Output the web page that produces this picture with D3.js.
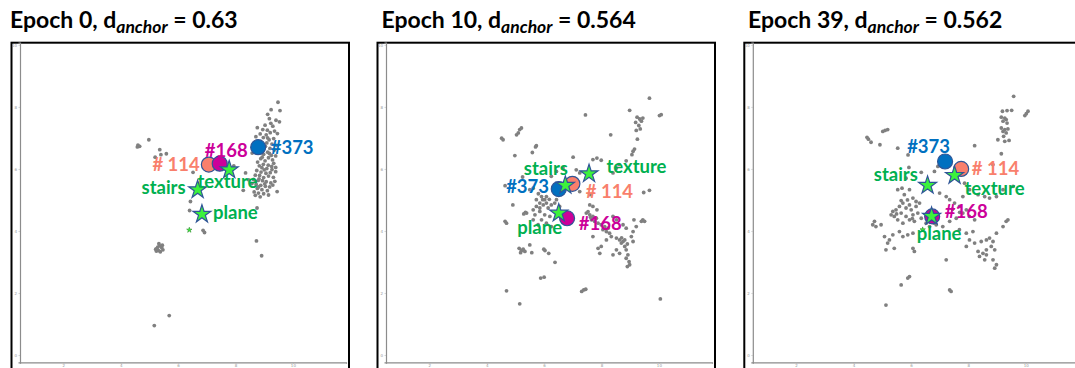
<!DOCTYPE html>
<html>
<head>
<meta charset="utf-8">
<script src="https://cdn.jsdelivr.net/npm/d3@7"></script>
<style>
  html, body { margin: 0; padding: 0; background: #fff; }
  svg { display: block; }
</style>
</head>
<body>
<svg id="chart" width="1075" height="368"></svg>
<script>
// ---- data -------------------------------------------------------------
const epochs = ["0", "10", "39"];
const dAnchor = ["0.63", "0.564", "0.562"];
const xTicks = [2, 4, 6, 8, 10];
const yTicks = [0, 2, 4, 6, 8, 10];

const anchorNames = ["#373", "# 114", "#168"];
const conceptNames = ["texture", "stairs", "plane"];

// anchor sample positions per epoch, in the order of anchorNames
const anchors0 = [[8.79, 6.70], [7.07, 6.14], [7.45, 6.17]];
const anchors10 = [[6.51, 5.35], [6.985, 5.52], [6.80, 4.41]];
const anchors39 = [[7.19, 6.24], [7.75, 6.00], [6.74, 4.47]];

// concept positions per epoch, in the order of conceptNames
const concepts0 = [[7.78, 5.97], [6.68, 5.33], [6.83, 4.54]];
const concepts10 = [[7.565, 5.845], [6.74, 5.47], [6.51, 4.575]];
const concepts39 = [[7.52, 5.79], [6.58, 5.47], [6.72, 4.47]];

// small unlabeled concept marker
const minor0 = [[6.39, 4.03]];
const minor10 = [];
const minor39 = [[6.41, 4.04]];

// embedded samples, epoch 0
const points0 = [
  [4.60,6.77],[4.66,6.73],[4.58,6.71],[4.98,6.94],[5.36,6.62],[5.20,6.38],[5.40,6.46],[5.59,6.49],
  [6.52,5.89],[6.43,4.95],[6.40,4.66],[6.87,4.02],[6.92,3.95],[8.27,5.31],[8.75,4.74],[8.73,3.68],
  [8.91,3.20],[9.37,5.60],[8.46,5.65],[5.69,1.27],[5.17,0.95],[8.35,5.87],[7.94,6.10],[8.58,6.51],
  [5.22,3.41],[5.29,3.48],[5.36,3.52],[5.43,3.46],[5.47,3.39],[5.31,3.37],[5.24,3.35],[5.38,3.33],
  [5.33,3.59],[5.26,3.43],[5.45,3.54],
  [9.48,8.15],[9.24,7.91],[9.55,7.88],[9.12,7.76],[9.18,7.62],[9.41,7.57],[9.53,7.52],[9.23,7.47],
  [9.03,7.41],[9.30,7.38],[8.76,7.33],[8.95,7.27],[9.11,7.25],[9.36,7.22],[8.86,7.13],[9.07,7.10],
  [9.21,7.17],[9.46,7.14],[8.71,7.04],[8.97,7.01],[9.17,6.94],[9.33,6.98],[8.83,6.87],[9.09,6.84],
  [9.27,6.80],[9.44,6.76],[9.04,6.73],[9.20,6.66],[9.35,6.61],[9.12,6.54],[9.25,6.44],[8.98,6.47],
  [9.15,6.36],[9.40,6.42],[8.88,6.33],[9.03,6.26],[9.29,6.29],[8.77,6.22],[8.97,6.15],[9.14,6.12],
  [9.33,6.18],[8.92,6.04],[9.09,6.01],[9.27,5.98],[8.74,5.95],[8.89,5.90],[9.06,5.86],[9.21,5.88],
  [9.40,5.91],[8.69,5.80],[8.84,5.79],[8.98,5.72],[9.15,5.77],[9.32,5.73],[8.63,5.66],[8.79,5.63],
  [8.94,5.62],[9.07,5.59],[9.23,5.55],[8.57,5.53],[8.72,5.50],[8.88,5.47],[9.04,5.44],[9.19,5.42],
  [8.76,5.37],[8.92,5.33],[9.11,5.30],[8.65,5.26],[8.80,5.22],[8.98,5.20],[9.15,5.16],[8.69,5.15],
  [8.86,5.10],[9.45,5.27],[9.02,5.52],[8.82,5.68],[9.00,5.97],[8.83,6.10],[9.18,6.50],[8.93,6.38],
  [9.40,6.05],[8.80,5.42],[9.30,5.48],[9.12,7.00],[8.96,6.60],[9.26,6.08],[8.70,5.60]
];

// embedded samples, epoch 10
const points10 = [
  [9.67,8.28],[8.98,7.89],[9.24,7.67],[9.33,7.61],[9.44,7.64],[9.39,7.54],[9.19,7.50],[9.30,7.40],
  [9.35,7.29],[9.21,7.24],[9.25,6.96],[9.15,6.64],[9.10,6.57],[9.06,6.46],[8.86,6.26],[8.61,6.14],
  [8.52,6.03],[8.40,5.87],[10.08,7.75],[10.02,7.72],[8.32,7.10],[7.44,7.74],
  [4.52,6.99],[4.57,6.94],[5.04,7.10],[5.10,7.16],[5.15,7.27],[5.21,7.32],[5.73,6.75],[5.70,6.71],
  [5.59,6.53],[4.98,6.43],[4.64,5.46],[5.25,5.74],[4.91,4.84],
  [7.01,6.38],[6.25,5.76],[6.43,5.92],[6.66,6.03],[7.12,5.97],[7.24,5.87],[7.70,6.30],[7.84,6.35],
  [7.99,6.28],[7.24,5.27],[7.59,5.17],[5.62,5.38],[5.50,5.33],[5.91,5.11],[6.02,5.01],[5.73,5.01],
  [5.85,4.90],[5.97,4.84],[6.14,4.74],[6.25,4.84],[6.37,4.90],[6.08,5.11],[5.73,4.79],[5.62,4.68],
  [5.85,4.63],[6.02,4.52],[6.20,4.47],[5.91,4.36],[5.62,4.36],[5.79,4.20],[6.08,4.25],[6.25,4.14],
  [5.85,4.74],[6.08,4.90],[5.95,5.01],[6.43,5.01],[6.54,4.79],[5.80,5.20],[6.18,5.02],[5.68,4.52],
  [7.47,4.575],[7.59,4.52],[7.70,4.47],[7.82,4.41],[7.65,4.36],[7.76,4.31],[7.88,4.25],[7.99,4.20],
  [8.11,4.14],[8.23,4.09],[8.05,4.04],[8.17,3.98],[8.28,3.93],[8.34,3.82],[8.52,3.77],[8.63,3.71],
  [8.75,3.66],[8.69,3.61],[8.81,3.50],[8.86,3.39],[8.92,3.23],[8.86,3.12],[8.96,3.01],[8.98,2.91],
  [8.90,2.85],[8.52,3.39],[8.63,3.28],[8.40,3.23],[8.81,3.71],[9.10,3.98],[9.21,4.14],[9.39,4.31],
  [9.44,4.36],[9.50,4.31],[9.13,4.36],[8.17,3.71],[7.99,3.50],[7.88,3.44],[7.94,3.28],[7.70,3.82],
  [8.40,4.47],[8.52,4.36],[8.75,4.20],[8.86,4.09],[9.04,3.82],[9.10,3.66],[7.59,4.84],[7.70,4.79],
  [7.84,4.68],[7.53,4.62],[7.62,4.44],[8.70,3.78],[8.90,3.58],
  [4.64,4.31],[4.69,4.25],[5.35,4.60],[5.29,4.55],[5.39,4.575],[5.13,3.44],[5.21,3.37],[5.27,3.41],
  [5.33,3.34],[5.18,3.30],[5.50,3.55],[5.57,3.30],[5.99,3.41],[6.03,3.37],[6.16,3.28],[6.38,2.99],
  [5.88,2.48],[6.00,2.51],[4.69,2.07],[5.15,1.65],[7.31,2.05],[7.38,2.10],[7.45,2.12],[10.05,1.81],
  [9.47,5.24],[9.67,5.31]
];

// embedded samples, epoch 39
const points39 = [
  [9.58,8.34],[9.35,7.88],[9.51,7.89],[9.19,7.86],[9.15,7.67],[9.27,7.64],[9.32,7.59],[9.21,7.54],
  [9.35,7.48],[9.15,7.32],[9.27,7.27],[9.38,7.29],[9.21,7.21],[9.32,7.16],[9.23,7.05],[9.03,6.94],
  [9.42,6.92],[9.27,6.89],[9.97,7.72],[10.08,7.86],[10.02,7.78],[9.15,6.49],[8.22,6.75],
  [4.47,7.02],[4.52,6.96],[4.61,6.86],[5.02,7.21],[5.10,7.24],[5.19,7.27],[4.92,6.78],[5.54,6.67],
  [5.90,6.45],[5.93,6.05],[6.36,5.89],[5.83,5.70],[5.69,5.38],
  [6.94,6.08],[6.82,5.92],[8.86,6.14],[7.87,5.54],[8.04,5.33],[8.34,5.17],[8.57,5.11],[8.74,5.06],
  [8.98,5.11],[9.21,5.33],[9.56,5.44],[7.81,5.11],[5.95,5.33],[5.54,5.33],
  [5.77,5.17],[6.07,5.06],[6.18,4.95],[5.95,4.84],[5.72,4.90],[5.83,4.74],[6.01,4.68],[6.18,4.79],
  [6.30,4.90],[5.60,4.79],[5.48,4.68],[5.37,4.63],[5.66,4.575],[5.83,4.47],[6.07,4.52],[6.24,4.575],
  [5.31,4.52],[5.95,4.36],[6.12,4.31],[5.72,4.25],[5.54,4.36],[5.42,4.47],[6.36,4.41],[6.53,4.25],
  [6.65,4.14],[6.88,4.20],[7.11,4.14],[7.35,4.31],[7.58,4.41],[7.81,4.575],[8.04,4.47],[8.22,4.36],
  [7.93,4.68],[7.69,4.79],[7.52,4.90],[7.35,5.01],[7.23,5.11],[7.00,5.22],[6.82,4.25],
  [5.66,4.98],[5.88,5.00],[6.05,4.40],[5.50,4.55],[7.45,4.70],[7.70,4.60],
  [4.73,4.31],[4.78,4.14],[4.96,4.20],[4.67,4.20],[5.08,3.82],[5.37,3.875],[5.25,3.71],[5.19,3.61],
  [5.42,3.44],[5.13,3.39],[5.60,3.98],[5.72,3.82],[5.89,3.875],[6.07,3.93],[6.07,3.44],[6.12,3.34],
  [7.69,4.04],[7.93,3.93],[8.16,3.98],[8.04,3.71],[8.22,3.61],[7.93,3.50],[8.45,3.66],[8.63,3.71],
  [8.74,3.77],[8.86,3.66],[8.80,3.50],[8.92,3.39],[8.63,3.39],[8.51,3.28],[8.39,3.18],[8.57,3.07],
  [8.86,3.07],[8.98,2.91],[8.92,2.80],[8.34,3.34],[8.98,3.93],[9.21,4.14],[9.32,4.31],[9.38,4.36],
  [8.63,3.23],[7.23,3.07],[5.95,2.53],[5.89,2.48],[5.66,2.26],[7.35,2.10],[7.40,2.05],[5.13,1.61]
];

// ---- layout & style ---------------------------------------------------
const panels = [
  { points: points0, anchors: anchors0, concepts: concepts0, minor: minor0,
    frameX: 11.5, titleX: 10,
    anchorLabels: [[12.5, 6.6, "start"], [-9, 6.7, "end"], [6.5, -6.7, "middle"]],
    conceptLabels: [[-1.7, 18.3, "middle"], [-12, 4.3, "end"], [11, 4.4, "start"]] },
  { points: points10, anchors: anchors10, concepts: concepts10, minor: minor10,
    frameX: 377.5, titleX: 381.5,
    anchorLabels: [[-9.7, 4, "end"], [13.3, 13.7, "start"], [11.7, 11.7, "start"]],
    conceptLabels: [[17.4, -0.7, "start"], [2.6, -10.7, "end"], [3.3, 20.7, "end"]] },
  { points: points39, anchors: anchors39, concepts: concepts39, minor: minor39,
    frameX: 744.3, titleX: 748,
    anchorLabels: [[5, -8.4, "end"], [10.6, 5.6, "start"], [12.6, 1.6, "start"]],
    conceptLabels: [[10, 19.6, "start"], [-9.7, -4, "end"], [7.5, 24, "middle"]] }
];

const anchorColors = ["#0070C0", "#F97F6C", "#CC0099"];
const conceptColor = "#00B050";
const starFill = "#3CF23C";
const markStroke = "#2F5597";
const pointColor = "#808080";
const labelFont = "Lato, 'Open Sans', sans-serif";

const frameW = 337.5;
const plotTop = 42.7, plotBottom = 362.3;

const svg = d3.select("#chart");

panels.forEach((p, i) => {
  const g = svg.append("g");

  // frame
  g.append("rect")
    .attr("x", p.frameX).attr("y", plotTop)
    .attr("width", frameW).attr("height", 340)
    .attr("fill", "#fff").attr("stroke", "#000").attr("stroke-width", 2);

  const x = d3.scaleLinear().domain([0.49, 11.85]).range([p.frameX + 8.5, p.frameX + 334.5]);
  const y = d3.scaleLinear().domain([-0.235, 10.07]).range([plotBottom, plotTop]);

  // axes
  const xAxis = g.append("g").attr("transform", `translate(0,${plotBottom})`)
    .call(d3.axisBottom(x).tickValues(xTicks).tickSize(1.5).tickPadding(0.5));
  const yAxis = g.append("g").attr("transform", `translate(${p.frameX + 8.5},0)`)
    .call(d3.axisLeft(y).tickValues(yTicks).tickSize(1.5).tickPadding(1.5));
  [xAxis, yAxis].forEach(a => {
    a.select(".domain").attr("stroke", "#8c8c8c").attr("stroke-width", 1.2);
    a.selectAll(".tick line").attr("stroke", "#aaa").attr("stroke-width", 0.5);
    a.selectAll(".tick text").attr("fill", "#999").attr("font-size", 4)
      .attr("font-family", "DejaVu Sans, sans-serif");
  });

  // samples
  g.append("g").selectAll("circle").data(p.points).join("circle")
    .attr("cx", d => x(d[0])).attr("cy", d => y(d[1]))
    .attr("r", 1.9).attr("fill", pointColor);

  // anchor samples
  g.append("g").selectAll("circle").data(p.anchors).join("circle")
    .attr("cx", d => x(d[0])).attr("cy", d => y(d[1]))
    .attr("r", 7.5)
    .attr("fill", (d, j) => anchorColors[j])
    .attr("stroke", markStroke).attr("stroke-width", 1.2);

  // concept stars
  const star = d3.symbol().type(d3.symbolStar);
  g.append("g").selectAll("path").data(p.concepts).join("path")
    .attr("transform", d => `translate(${x(d[0])},${y(d[1])})`)
    .attr("d", star.size(100)())
    .attr("fill", starFill).attr("stroke", markStroke).attr("stroke-width", 1.2);
  g.append("g").selectAll("path").data(p.minor).join("path")
    .attr("transform", d => `translate(${x(d[0])},${y(d[1])})`)
    .attr("d", d3.symbol().type(d3.symbolStar).size(9)())
    .attr("fill", starFill).attr("stroke", "#1a7a1a").attr("stroke-width", 0.5);

  // labels
  const labels = g.append("g").attr("font-family", labelFont)
    .attr("font-weight", "bold").attr("font-size", 18.5);
  p.anchors.forEach((d, j) => {
    const [dx, dy, anchor] = p.anchorLabels[j];
    labels.append("text")
      .attr("x", x(d[0]) + dx).attr("y", y(d[1]) + dy)
      .attr("text-anchor", anchor).attr("fill", anchorColors[j])
      .text(anchorNames[j]);
  });
  p.concepts.forEach((d, j) => {
    const [dx, dy, anchor] = p.conceptLabels[j];
    labels.append("text")
      .attr("x", x(d[0]) + dx).attr("y", y(d[1]) + dy)
      .attr("text-anchor", anchor).attr("fill", conceptColor)
      .text(conceptNames[j]);
  });

  // title
  const title = svg.append("text")
    .attr("x", p.titleX).attr("y", 28)
    .attr("font-family", labelFont).attr("font-weight", "bold")
    .attr("font-size", 23).attr("fill", "#000");
  title.append("tspan").text(`Epoch ${epochs[i]}, d`);
  title.append("tspan").attr("dy", 5).attr("font-size", 17.5)
    .attr("font-style", "italic").text("anchor");
  title.append("tspan").attr("dy", -5).text(` = ${dAnchor[i]}`);
});
</script>
</body>
</html>
